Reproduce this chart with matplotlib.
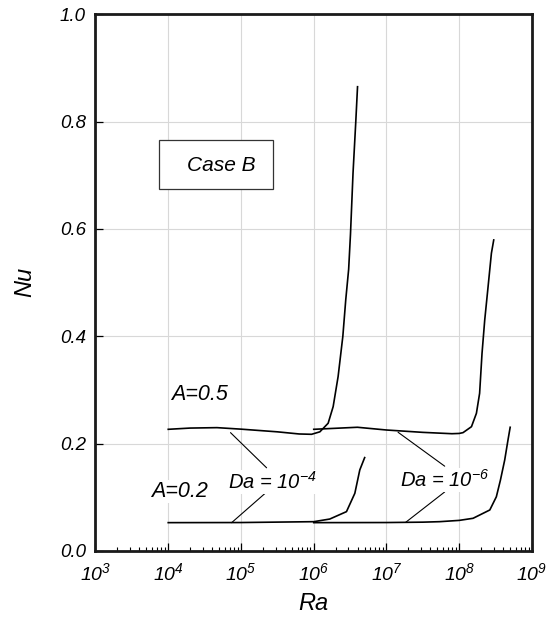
import numpy as np
import matplotlib
matplotlib.use('Agg')
import matplotlib.pyplot as plt
from matplotlib.patches import Rectangle
from matplotlib.ticker import NullFormatter, FixedLocator

plt.rcParams['font.family'] = ['Liberation Sans', 'DejaVu Sans']
plt.rcParams['font.style'] = 'italic'

### Data: Nu vs Ra (log10 Ra) ###

# A = 0.5, Da = 1e-4
logRa_a5_d4 = [4.0, 4.3, 4.67, 5.0, 5.5, 5.8, 5.97, 6.084, 6.198, 6.267, 6.335,
               6.40, 6.44, 6.48, 6.505, 6.54, 6.578, 6.602]
Nu_a5_d4 = [0.2267, 0.229, 0.2298, 0.227, 0.222, 0.218, 0.2174, 0.222, 0.238, 0.269, 0.325,
            0.40, 0.468, 0.525, 0.59, 0.704, 0.80, 0.865]

# A = 0.5, Da = 1e-6
logRa_a5_d6 = [6.0, 6.3, 6.6, 7.0, 7.5, 7.9, 8.0, 8.052, 8.168, 8.236, 8.28,
               8.313, 8.35, 8.396, 8.442, 8.474]
Nu_a5_d6 = [0.2267, 0.2286, 0.2305, 0.2254, 0.221, 0.2185, 0.219, 0.2205, 0.2316, 0.2565, 0.2938,
            0.368, 0.430, 0.492, 0.5547, 0.5795]

# A = 0.2, Da = 1e-4
logRa_a2_d4 = [4.0, 5.0, 6.0, 6.22, 6.45, 6.565, 6.633, 6.70]
Nu_a2_d4 = [0.0528, 0.053, 0.0546, 0.0595, 0.0733, 0.1075, 0.151, 0.174]

# A = 0.2, Da = 1e-6
logRa_a2_d6 = [6.0, 7.0, 7.5, 7.73, 8.0, 8.19, 8.42, 8.51, 8.566, 8.625, 8.67, 8.70]
Nu_a2_d6 = [0.0528, 0.053, 0.0537, 0.0546, 0.057, 0.0609, 0.0764, 0.101, 0.132, 0.1696, 0.2068, 0.2305]

curves = [(logRa_a5_d4, Nu_a5_d4), (logRa_a5_d6, Nu_a5_d6),
          (logRa_a2_d4, Nu_a2_d4), (logRa_a2_d6, Nu_a2_d6)]

# axis ticks
x_decades = [3, 4, 5, 6, 7, 8, 9]
y_ticks = [0.0, 0.2, 0.4, 0.6, 0.8, 1.0]

# Labels: (text, log10 Ra, Nu)
labels = [('A=0.5', 4.435, 0.291),
          ('A=0.2', 4.16, 0.1105)]
da_labels = [(r'Da = $\mathdefault{10^{-4}}$', 5.438, 0.1286),
             (r'Da = $\mathdefault{10^{-6}}$', 7.80, 0.132)]
# leader lines: ((log Ra, Nu) on curve, (log Ra, Nu) near label)
leaders = [((4.856, 0.2205), (5.352, 0.155)),
           ((4.871, 0.0527), (5.342, 0.1086)),
           ((7.159, 0.2212), (7.80, 0.158)),
           ((7.265, 0.0535), (7.80, 0.110))]

fig = plt.figure(figsize=(5.58, 6.23), dpi=100)
ax = fig.add_axes([0.1711, 0.1156, 0.7823, 0.8615])

for lr, nu in curves:
    ax.plot(10 ** np.array(lr), nu, color='black', lw=1.2, zorder=3)

for (x0, y0), (x1, y1) in leaders:
    ax.annotate('', xy=(10 ** x0, y0), xytext=(10 ** x1, y1),
                arrowprops=dict(arrowstyle='-', lw=0.8, color='black', shrinkA=0, shrinkB=0))

for txt, lx, y in labels:
    ax.text(10 ** lx, y, txt, fontsize=15.5, ha='center', va='center', zorder=4,
            bbox=dict(facecolor='white', edgecolor='none', pad=1))
for txt, lx, y in da_labels:
    ax.text(10 ** lx, y, txt, fontsize=14.5, ha='center', va='center', zorder=4,
            bbox=dict(facecolor='white', edgecolor='none', pad=1))

# Case box
ax.add_patch(Rectangle((0.1455, 0.6745), 0.2611, 0.0915, transform=ax.transAxes,
                       facecolor='white', edgecolor='#333333', lw=0.9, zorder=4))
ax.text(0.2875, 0.719, 'Case B', transform=ax.transAxes, fontsize=15,
        ha='center', va='center', zorder=5)

ax.set_xscale('log')
ax.set_xlim(1e3, 1e9)
ax.set_ylim(0, 1.0)
ax.set_xticks([10.0 ** d for d in x_decades])
ax.set_xticklabels([r'$\mathdefault{10^{%d}}$' % d for d in x_decades])
minor = [m * 10.0 ** d for d in x_decades[:-1] for m in range(2, 10)]
ax.xaxis.set_minor_locator(FixedLocator(minor))
ax.xaxis.set_minor_formatter(NullFormatter())
ax.set_yticks(y_ticks)
ax.set_yticklabels(['%.1f' % v for v in y_ticks])

ax.grid(True, which='major', color='#d8d8d8', lw=0.8, zorder=0)
ax.set_axisbelow(True)

ax.tick_params(axis='both', which='major', direction='in', length=6, width=0.9, color='black')
ax.tick_params(axis='x', which='minor', direction='in', length=3, width=0.8)
ax.tick_params(axis='x', labelsize=14, pad=8)
ax.tick_params(axis='y', labelsize=13.5, pad=7)

for sp in ax.spines.values():
    sp.set_linewidth(2.0)
    sp.set_color('#1a1a1a')

ax.set_xlabel('Ra', fontsize=17)
ax.set_ylabel('Nu', fontsize=17)
ax.xaxis.set_label_coords(0.498, -0.076)
ax.yaxis.set_label_coords(-0.135, 0.501)

fig.savefig('out.png', dpi=100)
